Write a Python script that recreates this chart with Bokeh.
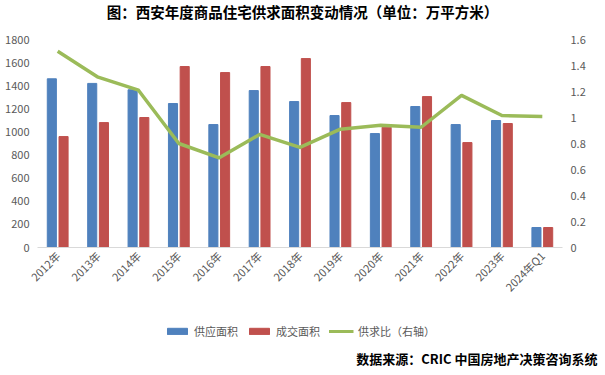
from bokeh.plotting import figure
from bokeh.models import (Range1d, LinearAxis, FixedTicker, FactorRange, Legend, LegendItem,
                          Label, Title, CustomJSTickFormatter, ColumnDataSource)
from bokeh.layouts import column
from bokeh.transform import dodge
from bokeh.embed import file_html
from bokeh.resources import INLINE
import math

categories = ["2012年", "2013年", "2014年", "2015年", "2016年", "2017年", "2018年",
              "2019年", "2020年", "2021年", "2022年", "2023年", "2024年Q1"]
supply = [1460, 1420, 1365, 1246, 1064, 1358, 1263, 1142, 986, 1220, 1064, 1099, 173]
deal = [960, 1081, 1125, 1566, 1514, 1566, 1635, 1254, 1041, 1306, 908, 1073, 173]
ratio = [1.51, 1.31, 1.21, 0.80, 0.69, 0.87, 0.77, 0.91, 0.94, 0.925, 1.17, 1.015, 1.008]
left_ticks = [0, 200, 400, 600, 800, 1000, 1200, 1400, 1600, 1800]
right_ticks = [0, 0.2, 0.4, 0.6, 0.8, 1.0, 1.2, 1.4, 1.6]

FONT = "Noto Sans CJK SC"
GRAY = "#595959"
BLUE = "#4F81BD"
RED = "#C0504D"
GREEN = "#9BBB59"

src = ColumnDataSource(dict(cat=categories, supply=supply, deal=deal, ratio=ratio))


def blank(h):
    f = figure(width=605, height=h, output_backend="svg", toolbar_location=None,
               x_range=Range1d(0, 1), y_range=Range1d(0, 1),
               x_axis_type=None, y_axis_type=None, min_border=0,
               min_border_left=37, min_border_right=43)
    f.outline_line_color = None
    f.background_fill_color = "white"
    f.border_fill_color = "white"
    return f


# --- title strip (frame spans x 37..562) ---
top = blank(26)
top.add_layout(Label(x=265, y=15, x_units="screen", y_units="screen",
                     text="图：西安年度商品住宅供求面积变动情况（单位：万平方米）",
                     text_align="center", text_baseline="middle", text_font=FONT,
                     text_font_size="14.5px", text_font_style="bold", text_color="#000000"))

# --- main chart ---
p = figure(width=605, height=284, output_backend="svg", toolbar_location=None,
           x_range=FactorRange(*categories, range_padding=0), y_range=Range1d(0, 1800),
           min_border_left=37, min_border_right=43, min_border_top=13, min_border_bottom=63)
p.outline_line_color = None
p.xgrid.visible = False
p.ygrid.visible = False
p.background_fill_color = "white"
p.border_fill_color = "white"

p.extra_y_ranges = {"r": Range1d(0, 1.6)}

p.vbar(x=dodge("cat", -0.145, range=p.x_range), top="supply", width=0.225,
       source=src, color=BLUE)
p.vbar(x=dodge("cat", 0.145, range=p.x_range), top="deal", width=0.225,
       source=src, color=RED)
p.line(x="cat", y="ratio", source=src, y_range_name="r", line_color=GREEN,
       line_width=3.5, line_join="round")

ya = p.yaxis[0]
ya.ticker = FixedTicker(ticks=left_ticks)
ya.axis_line_color = None
ya.major_tick_line_color = None
ya.minor_tick_line_color = None
ya.major_tick_out = 0
ya.major_label_standoff = 8
ya.major_label_text_font = FONT
ya.major_label_text_font_size = "11px"
ya.major_label_text_color = GRAY

ra = LinearAxis(y_range_name="r", ticker=FixedTicker(ticks=right_ticks),
                formatter=CustomJSTickFormatter(code="return String(Math.round(tick*10)/10);"))
ra.axis_line_color = None
ra.major_tick_line_color = None
ra.minor_tick_line_color = None
ra.major_tick_out = 0
ra.major_label_standoff = 8
ra.major_label_text_font = FONT
ra.major_label_text_font_size = "11px"
ra.major_label_text_color = GRAY
p.add_layout(ra, "right")

xa = p.xaxis[0]
xa.axis_line_color = "#D9D9D9"
xa.axis_line_width = 1
xa.major_tick_line_color = None
xa.minor_tick_line_color = None
xa.major_tick_out = 0
xa.major_label_orientation = math.pi / 4
xa.major_label_standoff = 6
xa.major_label_text_font = FONT
xa.major_label_text_font_size = "11px"
xa.major_label_text_color = GRAY

# --- legend + source strip ---
bot = blank(65)
# invisible legend proxies (hidden renderers, only their legend swatches show)
e1 = bot.vbar(x=[-5], top=[0], width=0.1, color=BLUE, visible=False)
e2 = bot.vbar(x=[-5], top=[0], width=0.1, color=RED, visible=False)
e3 = bot.line(x=[-5, -4], y=[0, 0], line_color=GREEN, line_width=3, visible=False)
legend = Legend(items=[LegendItem(label="供应面积", renderers=[e1]),
                       LegendItem(label="成交面积", renderers=[e2]),
                       LegendItem(label="供求比（右轴）", renderers=[e3])],
                orientation="horizontal", location="top_center",
                glyph_width=25, glyph_height=8, label_height=12, label_standoff=5,
                spacing=8, padding=0, margin=13,
                label_text_font=FONT, label_text_font_size="11px", label_text_color=GRAY,
                border_line_color=None, background_fill_alpha=0)
bot.add_layout(legend)
bot.add_layout(Title(text="数据来源：CRIC 中国房地产决策咨询系统", align="right", offset=-35,
                     standoff=16, text_font=FONT, text_font_size="13px",
                     text_font_style="bold", text_color="#000000"), "below")

layout = column(top, p, bot, spacing=0)
open("out.html", "w").write(file_html(layout, INLINE))
